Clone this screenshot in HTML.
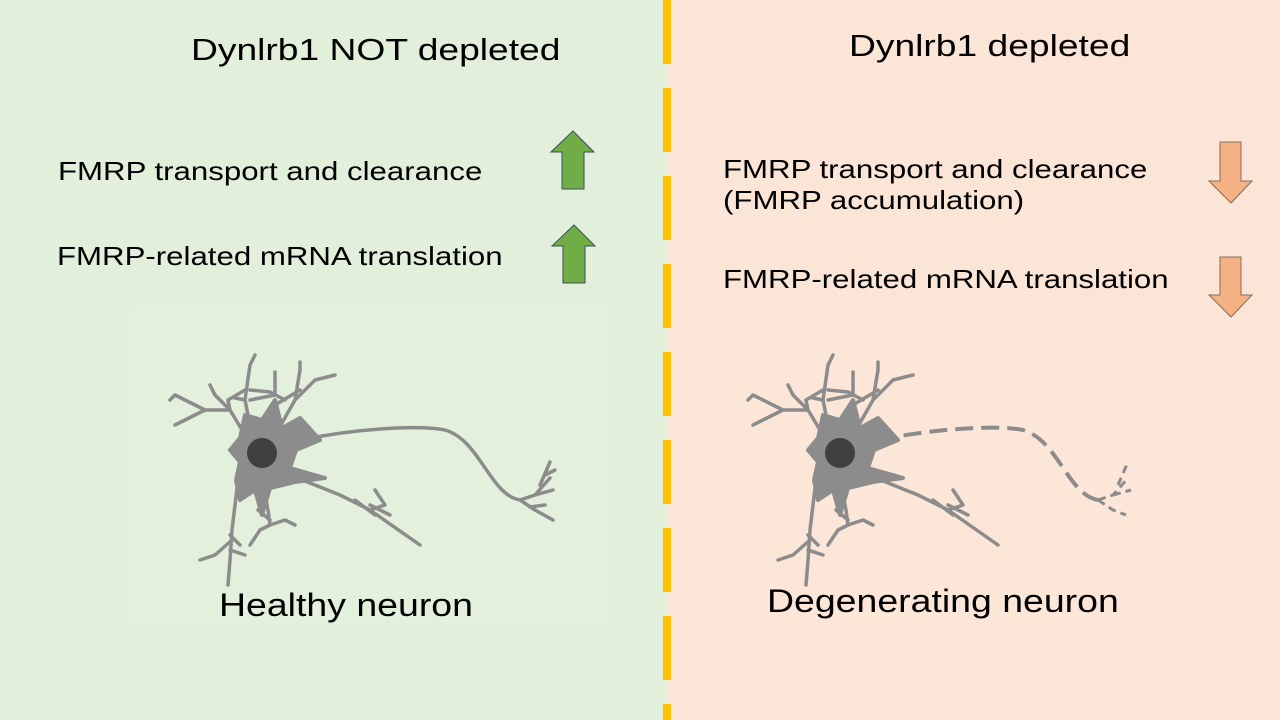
<!DOCTYPE html>
<html><head><style>
body{margin:0;width:1280px;height:720px;overflow:hidden;font-family:"Liberation Sans",sans-serif;position:relative}
.l{position:absolute;left:0;top:0;width:667px;height:720px;background:#e2efda}
.r{position:absolute;left:667px;top:0;width:613px;height:720px;background:#fbe5d6}
.t{position:absolute;white-space:nowrap;color:#000;transform:scaleX(1.2);transform-origin:0 0}
</style></head><body>
<div class="l"></div><div class="r"></div>
<div style="position:absolute;left:130px;top:310px;width:480px;height:315px;background:#e3f0db"></div>
<div style="position:absolute;left:722px;top:312px;width:450px;height:315px;background:#fce6d8"></div>
<svg width="1280" height="720" style="position:absolute;left:0;top:0">
<line x1="667" y1="0" x2="667" y2="720" stroke="#ffc000" stroke-width="8" stroke-dasharray="64 24" stroke-dashoffset="0"/>
<path d="M573 131 L594 152 L584 152 L584 189 L562 189 L562 152 L551 152 Z" fill="#70ad47" stroke="#3a4e5e" stroke-width="1"/>
<path d="M574 225 L595 246 L585 246 L585 283 L563 283 L563 246 L552 246 Z" fill="#70ad47" stroke="#3a4e5e" stroke-width="1"/>
<path d="M1220 142 L1241 142 L1241 181 L1252 181 L1231 203 L1209 181 L1220 181 Z" fill="#f4b183" stroke="#8a6a5a" stroke-width="1"/>
<path d="M1220 257 L1241 257 L1241 295 L1252 295 L1231 317 L1209 295 L1220 295 Z" fill="#f4b183" stroke="#8a6a5a" stroke-width="1"/>
<defs>
<g id="den" fill="none" stroke="#8c8c8c" stroke-width="3.5" stroke-linecap="round" stroke-linejoin="round">
<path d="M248 440 L230 410 L215 395 M230 410 L205 410 L175 425 M205 410 L175 395 L170 400 M215 395 L210 385 M230 410 L228 400 L245 390"/>
<path d="M250 425 L245 400 L250 365 L255 355 M250 400 L275 395 L275 372 M250 390 L270 392 L285 400 M245 400 L235 398"/>
<path d="M278 430 L295 400 L300 370 L300 362 M295 400 L315 380 L335 375 M300 390 L275 405"/>
<path d="M238 480 L232 530 L230 560 L228 585 M232 540 L215 555 L200 560 M230 550 L245 555 M230 535 L240 545"/>
<path d="M262 480 L268 510 L270 525 L285 520 L295 525 M270 525 L260 530 L250 545 M270 520 L258 510"/>
<path d="M290 475 L340 495 L370 510 L420 545 M370 510 L385 505 L375 490 M370 505 L390 515 M355 500 L375 515"/>
</g>
<g id="soma">
<path d="M262 420 L275 400 L282 428 L300 418 L320 440 L296 450 L290 468 L325 478 L295 482 L270 488 L262 515 L255 490 L240 500 L236 480 L240 462 L230 450 L240 438 L245 415 Z" fill="#8c8c8c" stroke="#8c8c8c" stroke-width="4" stroke-linejoin="round"/>
<circle cx="262" cy="453" r="15" fill="#404040"/>
</g>
</defs>
<use href="#den"/><use href="#soma"/>
<path d="M300 440 C360 428 420 425 445 430 C480 440 490 495 520 500 M520 500 L535 495 L550 478 M535 495 L553 490 M520 500 L535 510 L553 520 M530 507 L545 505 M540 485 L550 462 M545 475 L555 470" fill="none" stroke="#8c8c8c" stroke-width="3.5" stroke-linecap="round"/>
<g transform="translate(578,0)">
<use href="#den"/><use href="#soma"/>
<path d="M300 440 C360 428 420 425 445 430 C480 440 490 495 520 500" fill="none" stroke="#8c8c8c" stroke-width="4" stroke-dasharray="18 8"/>
<path d="M520 500 L535 495 L550 478 M535 495 L553 490 M520 500 L535 510 L548 515 M540 485 L550 462" fill="none" stroke="#8c8c8c" stroke-width="3" stroke-dasharray="8 5"/>
</g>
</svg>
<div class="t" style="left:191px;top:32px;font-size:31px">Dynlrb1 NOT depleted</div>
<div class="t" style="left:849px;top:28px;font-size:31px">Dynlrb1 depleted</div>
<div class="t" style="left:58px;top:156px;font-size:26px">FMRP transport and clearance</div>
<div class="t" style="left:57px;top:241px;font-size:26px">FMRP-related mRNA translation</div>
<div class="t" style="left:723px;top:154px;font-size:26px;line-height:31px">FMRP transport and clearance<br>(FMRP accumulation)</div>
<div class="t" style="left:723px;top:264px;font-size:26px">FMRP-related mRNA translation</div>
<div class="t" style="left:219px;top:587px;font-size:32px;transform:scaleX(1.17)">Healthy neuron</div>
<div class="t" style="left:767px;top:583px;font-size:32px;transform:scaleX(1.17)">Degenerating neuron</div>
</body></html>
